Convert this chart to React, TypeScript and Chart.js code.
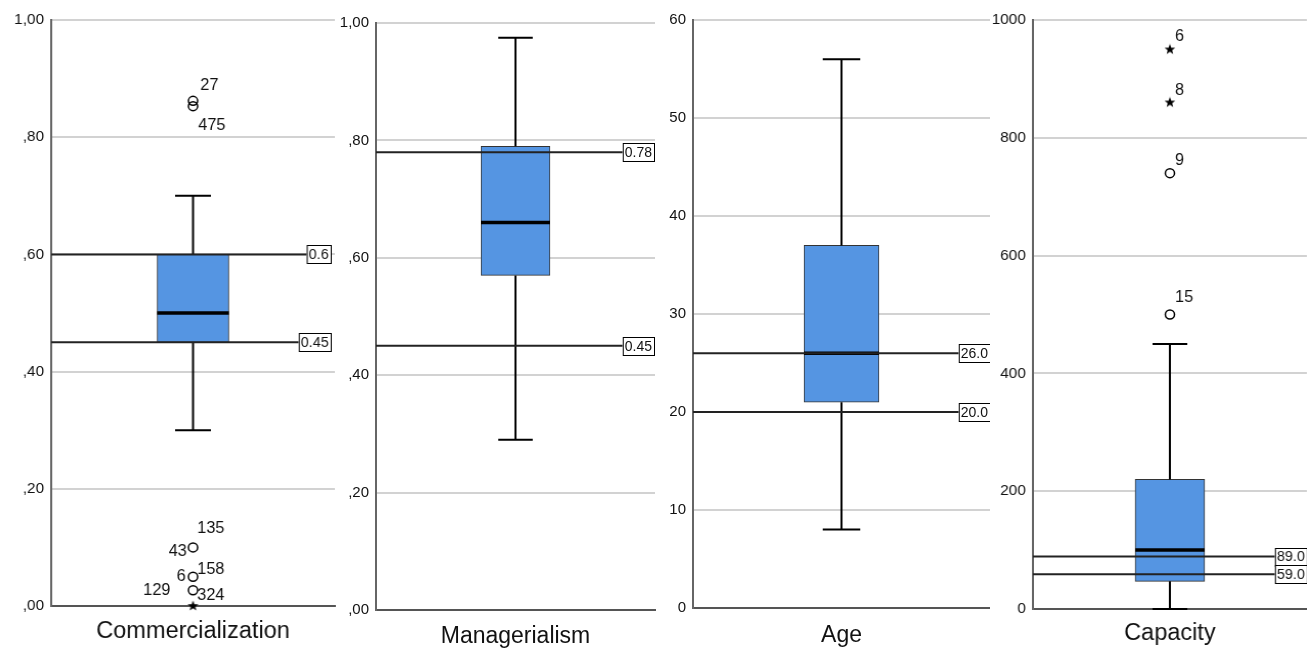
import React, { useEffect, useRef } from 'react';
import { Chart, registerables } from 'chart.js';

Chart.register(...registerables);

// ---------- data ----------
const categories = ['Commercialization', 'Managerialism', 'Age', 'Capacity'];
const lowerWhisker = [0.3, 0.29, 8, 0];
const q1Values = [0.45, 0.57, 21, 47];
const medianValues = [0.5, 0.66, 26, 100];
const q3Values = [0.6, 0.79, 37, 220];
const upperWhisker = [0.7, 0.975, 56, 450];
const axisMax = [1, 1, 60, 1000];
const axisStep = [0.2, 0.2, 10, 200];
const commercializationTicks = [',00', ',20', ',40', ',60', ',80', '1,00'];
const managerialismTicks = [',00', ',20', ',40', ',60', ',80', '1,00'];
const ageTicks = ['0', '10', '20', '30', '40', '50', '60'];
const capacityTicks = ['0', '200', '400', '600', '800', '1000'];
const tickLabels = [commercializationTicks, managerialismTicks, ageTicks, capacityTicks];

const refValues = [[0.6, 0.45], [0.78, 0.45], [26, 20], [89, 59]];
const refLabels = [['0.6', '0.45'], ['0.78', '0.45'], ['26.0', '20.0'], ['89.0', '59.0']];

const commercializationOutliers = [0.862, 0.853, 0.1, 0.05, 0.027];
const commercializationExtremes = [0.0];
const capacityOutliers = [740, 500];
const capacityExtremes = [950, 860];
const outlierValues = [commercializationOutliers, [], [], capacityOutliers];
const extremeValues = [commercializationExtremes, [], [], capacityExtremes];

const commercializationCaseIds = ['27', '475', '135', '43', '6', '158', '129', '324'];
const commercializationCaseValues = [0.862, 0.853, 0.1, 0.1, 0.05, 0.05, 0.027, 0.027];
const capacityCaseIds = ['6', '8', '9', '15'];
const capacityCaseValues = [950, 860, 740, 500];
const caseIds = [commercializationCaseIds, [], [], capacityCaseIds];
const caseValues = [commercializationCaseValues, [], [], capacityCaseValues];

// ---------- style / layout ----------
const FONT = 'Liberation Sans, Arial, sans-serif';
const commercializationPlacement = [
  { dx: 7, dy: -15, align: 'left' },
  { dx: 5, dy: 19, align: 'left' },
  { dx: 4, dy: -19, align: 'left' },
  { dx: -6, dy: 4, align: 'right' },
  { dx: -7, dy: 0, align: 'right' },
  { dx: 4, dy: -7, align: 'left' },
  { dx: -22, dy: 0, align: 'right' },
  { dx: 4, dy: 5, align: 'left' },
];
const capacityPlacement = [
  { dx: 5, dy: -13, align: 'left' },
  { dx: 5, dy: -12, align: 'left' },
  { dx: 5, dy: -13, align: 'left' },
  { dx: 5, dy: -17, align: 'left' },
];
const placements = [commercializationPlacement, [], [], capacityPlacement];

const panels = [
  { left: 0, width: 335, axisW: 50, padRight: 0, top: 20, bottom: 606, labelPad: 12, boxW: 70, inset: 4 },
  { left: 335, width: 325, axisW: 41, padRight: 5, top: 23, bottom: 610, labelPad: 13, boxW: 69, inset: 1 },
  { left: 660, width: 330, axisW: 33, padRight: 0, top: 20, bottom: 608, labelPad: 14, boxW: 75, inset: 0 },
  { left: 990, width: 317, axisW: 42, padRight: 0, top: 20, bottom: 609, labelPad: 11, boxW: 68, inset: 0 },
];
const H = 651;

function makeStar(): HTMLCanvasElement {
  const c = document.createElement('canvas');
  c.width = 12;
  c.height = 12;
  const g = c.getContext('2d')!;
  g.beginPath();
  for (let k = 0; k < 10; k++) {
    const r = k % 2 === 0 ? 5.5 : 2.3;
    const a = -Math.PI / 2 + (k * Math.PI) / 5;
    const px = 6 + r * Math.cos(a);
    const py = 6 + r * Math.sin(a);
    if (k === 0) g.moveTo(px, py);
    else g.lineTo(px, py);
  }
  g.closePath();
  g.fillStyle = '#000';
  g.fill();
  return c;
}

function Panel({ idx }: { idx: number }) {
  const ref = useRef<HTMLCanvasElement>(null);
  const p = panels[idx];
  useEffect(() => {
    const canvas = ref.current;
    if (!canvas) return;
    canvas.width = p.width;
    canvas.height = H;
    canvas.style.width = p.width + 'px';
    canvas.style.height = H + 'px';
    const cat = categories[idx];
    const star = makeStar();
    const extras = {
      id: 'boxExtras' + idx,
      afterDatasetsDraw(chart: any) {
        const ctx = chart.ctx;
        const xs = chart.scales.x;
        const ys = chart.scales.y;
        const area = chart.chartArea;
        const cx = xs.getPixelForValue(0);
        const half = p.boxW / 2;
        const cap = p.boxW / 4;
        ctx.save();
        ctx.strokeStyle = '#000';
        ctx.lineWidth = 2;
        ctx.beginPath();
        ctx.moveTo(cx, ys.getPixelForValue(q3Values[idx]));
        ctx.lineTo(cx, ys.getPixelForValue(upperWhisker[idx]));
        ctx.moveTo(cx, ys.getPixelForValue(q1Values[idx]));
        ctx.lineTo(cx, ys.getPixelForValue(lowerWhisker[idx]));
        const yu = ys.getPixelForValue(upperWhisker[idx]);
        const yl = ys.getPixelForValue(lowerWhisker[idx]);
        ctx.moveTo(cx - cap, yu);
        ctx.lineTo(cx + cap, yu);
        ctx.moveTo(cx - cap, yl);
        ctx.lineTo(cx + cap, yl);
        ctx.stroke();
        // median
        ctx.lineWidth = 3.5;
        ctx.beginPath();
        const ym = ys.getPixelForValue(medianValues[idx]);
        ctx.moveTo(cx - half, ym);
        ctx.lineTo(cx + half, ym);
        ctx.stroke();
        // reference lines
        ctx.font = '14px ' + FONT;
        ctx.textBaseline = 'middle';
        refValues[idx].forEach((v, k) => {
          const y = ys.getPixelForValue(v);
          const txt = refLabels[idx][k];
          const tw = ctx.measureText(txt).width;
          const bw = tw + 4;
          const bh = 18;
          const bx = area.right - bw - p.inset;
          ctx.strokeStyle = '#222';
          ctx.lineWidth = 2;
          ctx.beginPath();
          ctx.moveTo(area.left, y);
          ctx.lineTo(bx, y);
          ctx.stroke();
          ctx.fillStyle = '#fff';
          ctx.fillRect(bx, y - bh / 2, bw, bh);
          ctx.strokeStyle = '#000';
          ctx.lineWidth = 1;
          ctx.strokeRect(bx + 0.5, Math.round(y - bh / 2) + 0.5, bw, bh);
          ctx.fillStyle = '#111';
          ctx.textAlign = 'left';
          ctx.fillText(txt, bx + 2, y + 1);
        });
        // case labels
        ctx.font = '16px ' + FONT;
        ctx.fillStyle = '#111';
        caseIds[idx].forEach((id, k) => {
          const pl = placements[idx][k];
          const y = ys.getPixelForValue(caseValues[idx][k]);
          ctx.textAlign = pl.align;
          ctx.fillText(id, cx + pl.dx, y + pl.dy);
        });
        ctx.restore();
      },
    };
    const chart = new Chart(canvas, {
      type: 'bar',
      data: {
        labels: [cat],
        datasets: [
          {
            type: 'bar',
            data: [[q1Values[idx], q3Values[idx]]] as any,
            backgroundColor: '#5595e2',
            borderColor: '#333',
            borderWidth: 1,
            borderSkipped: false,
            barThickness: p.boxW,
          } as any,
          {
            type: 'scatter',
            data: outlierValues[idx].map((v) => ({ x: cat, y: v })) as any,
            pointStyle: 'circle',
            pointRadius: 4.5,
            pointBorderWidth: 1.5,
            pointBorderColor: '#000',
            pointBackgroundColor: 'rgba(0,0,0,0)',
            clip: false,
          } as any,
          {
            type: 'scatter',
            data: extremeValues[idx].map((v) => ({ x: cat, y: v })) as any,
            pointStyle: star,
            pointRadius: 6,
            clip: false,
          } as any,
        ],
      },
      options: {
        animation: false,
        responsive: false,
        events: [],
        layout: { padding: { left: 0, right: p.padRight, top: p.top, bottom: 0 } },
        plugins: { legend: { display: false }, tooltip: { enabled: false } },
        scales: {
          x: {
            type: 'category',
            offset: true,
            grid: { display: false, drawTicks: false },
            border: { display: true, color: '#555', width: 2 },
            ticks: {
              font: { family: FONT, size: 23 },
              color: '#111',
              padding: p.labelPad,
              maxRotation: 0,
            },
            afterFit: (s: any) => {
              s.height = H - p.bottom;
              s.paddingLeft = 0;
              s.paddingRight = 0;
            },
          },
          y: {
            type: 'linear',
            min: 0,
            max: axisMax[idx],
            ticks: {
              stepSize: axisStep[idx],
              font: { family: FONT, size: 15 },
              color: '#111',
              padding: 7,
              callback: (v: any) => tickLabels[idx][Math.round(Number(v) / axisStep[idx])],
            },
            grid: { color: '#d2d2d2', lineWidth: 2, drawTicks: false },
            border: { display: true, color: '#666', width: 2 },
            afterFit: (s: any) => {
              s.width = p.axisW;
            },
          },
        },
      } as any,
      plugins: [extras as any],
    });
    // compensate for any extra right padding the layout reserved
    const wantRight = p.width - p.padRight;
    const diff = Math.round(wantRight - chart.chartArea.right);
    if (diff > 0) {
      const w = p.width + diff;
      chart.resize(w, H);
      canvas.style.width = w + 'px';
      canvas.style.height = H + 'px';
    }
    return () => chart.destroy();
  }, [idx]);
  return (
    <canvas
      ref={ref}
      style={{ position: 'absolute', left: p.left, top: 0 }}
    />
  );
}

export default function App() {
  return (
    <div
      style={{
        position: 'absolute',
        left: 0,
        top: 0,
        width: 1307,
        height: H,
        background: '#fff',
        overflow: 'hidden',
      }}
    >
      {categories.map((c, i) => (
        <Panel key={c} idx={i} />
      ))}
    </div>
  );
}
